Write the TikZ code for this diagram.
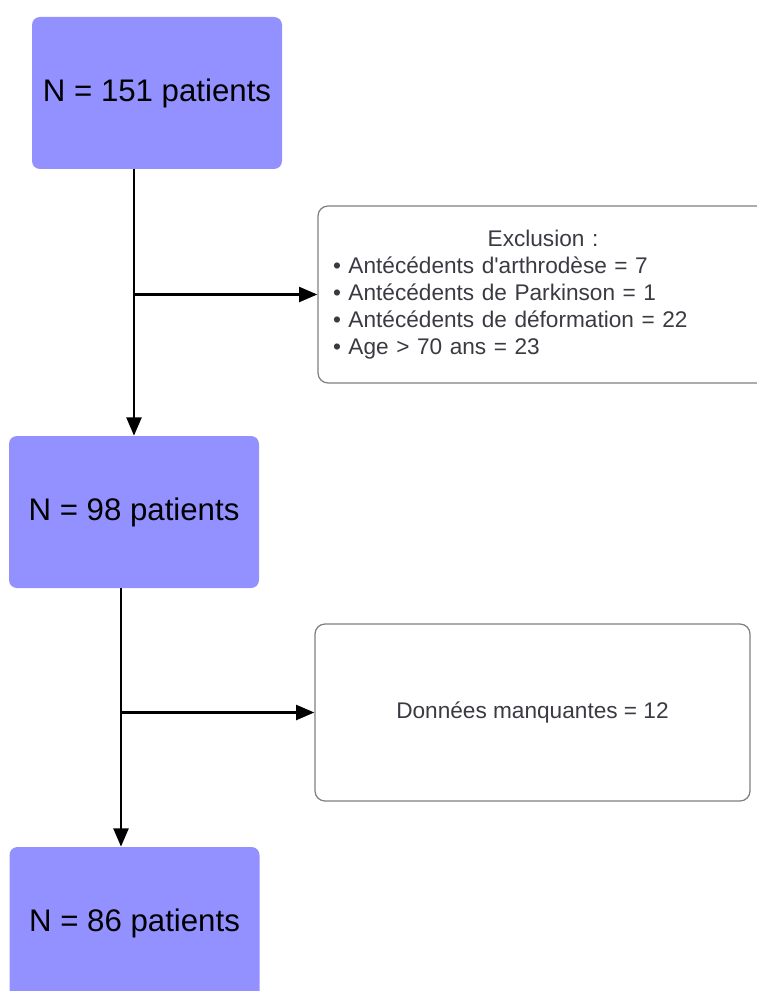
\documentclass[tikz,border=0pt]{standalone}
\usepackage{fontspec}
\setmainfont{Liberation Sans}
\usetikzlibrary{arrows.meta}
\definecolor{boxpurple}{RGB}{146,145,255}
\definecolor{boxtext}{RGB}{58,58,66}
\tikzset{
  pbox/.style={fill=boxpurple, rounded corners=0.2cm, minimum width=6.25cm, minimum height=3.8cm, font=\fontsize{22.2}{26}\selectfont},
  ebox/.style={draw=gray, line width=0.9pt, rounded corners=0.25cm, minimum height=4.425cm, text=boxtext, font=\fontsize{16.1}{19.2}\selectfont},
  arr/.style={-{Triangle[length=13pt,width=10.5pt]}, line width=2.1pt}
}
\begin{document}
\begin{tikzpicture}
\useasboundingbox (0,0) rectangle (18.9,-24.775);
% patient counts
\node[pbox] (n151) at (3.925,-2.325) {N = 151 patients};
\node[pbox] (n98) at (3.35,-12.8) {N = 98 patients};
\node[pbox] (n86) at (3.3625,-23.075) {N = 86 patients};
% exclusions
\node[ebox, text width=10.5cm, inner xsep=0.375cm, align=left] (excl) at (13.575,-7.3625)
  {\makebox[\hsize]{Exclusion :}\\
   • Antécédents d\textquotesingle arthrodèse = 7\\
   • Antécédents de Parkinson = 1\\
   • Antécédents de déformation = 22\\
   • Age > 70 ans = 23};
\node[ebox, minimum width=10.875cm] (miss) at (13.3125,-17.8125) {Données manquantes = 12};
% connectors
\draw[arr] (n151.south -| n98.north) -- (n98.north);
\draw[arr] (excl.west -| n98.north) -- (excl.west);
\draw[arr] (n98.south) ++(-0.325,0) coordinate (t2) -- (t2 |- n86.north);
\draw[arr] (t2 |- miss.west) -- (miss.west);
\end{tikzpicture}
\end{document}
